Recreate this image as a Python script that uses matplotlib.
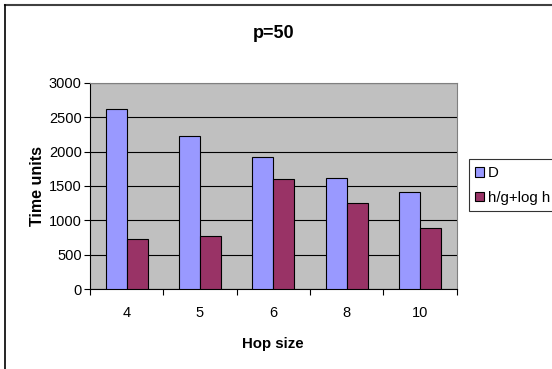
import matplotlib.pyplot as plt
import numpy as np
from matplotlib.patches import Patch
from matplotlib.lines import Line2D

plt.rcParams['font.family'] = ['Liberation Sans', 'DejaVu Sans']

hop_sizes = ['4', '5', '6', '8', '10']
d_values = [2620, 2225, 1920, 1615, 1415]
hg_values = [730, 770, 1600, 1255, 895]
series_names = ['D', 'h/g+log h']
colors = ['#9999FF', '#993366']

fig = plt.figure(figsize=(5.52, 3.69), dpi=100)
ax = fig.add_axes([0.163, 0.216, 0.664, 0.56])
ax.set_facecolor('#C0C0C0')

x = np.arange(len(hop_sizes))
w = 0.286
ax.bar(x - w / 2, d_values, w, color=colors[0], edgecolor='black', linewidth=0.8, zorder=3)
ax.bar(x + w / 2, hg_values, w, color=colors[1], edgecolor='black', linewidth=0.8, zorder=3)

ax.set_xlim(-0.5, len(hop_sizes) - 0.5)
ax.set_ylim(0, 3000)
ax.set_yticks(range(0, 3001, 500))
ax.yaxis.grid(True, color='black', linewidth=0.8, zorder=1)
ax.set_axisbelow(True)

ax.set_xticks(x)
ax.set_xticklabels(hop_sizes)
ax.set_xticks(np.arange(-0.5, len(hop_sizes)), minor=True)
ax.tick_params(axis='x', which='major', length=0, pad=12, labelsize=10.5)
ax.tick_params(axis='x', which='minor', length=4, direction='out', width=0.8)
ax.tick_params(axis='y', length=4, direction='out', labelsize=10.5, width=0.8, pad=2)

for side in ['top', 'right']:
    ax.spines[side].set_color('#808080')
ax.spines['left'].set_color('black')
ax.spines['bottom'].set_color('black')

ax.set_xlabel('Hop size', fontsize=10.8, fontweight='bold', labelpad=12)
ax.set_ylabel('Time units', fontsize=11.5, fontweight='bold', labelpad=3)
fig.text(0.495, 0.91, 'p=50', ha='center', va='center', fontsize=13, fontweight='bold')

handles = [Patch(facecolor=c, edgecolor='black', linewidth=0.8) for c in colors]
leg = fig.legend(handles, series_names, loc='upper left', bbox_to_anchor=(0.849, 0.568),
                 fontsize=10.8, frameon=True, fancybox=False, handlelength=0.6, handleheight=0.6,
                 handletextpad=0.25, borderpad=0.45, labelspacing=0.7, borderaxespad=0)
leg.get_frame().set_edgecolor('black')
leg.get_frame().set_linewidth(0.8)

# chart frame (top and left edges visible)
fig.add_artist(Line2D([5 / 552, 1], [1 - 5 / 369, 1 - 5 / 369], color='#404040', linewidth=1.5))
fig.add_artist(Line2D([5 / 552, 5 / 552], [0, 1 - 5 / 369], color='black', linewidth=1.2))

fig.savefig('out.png', dpi=100)
